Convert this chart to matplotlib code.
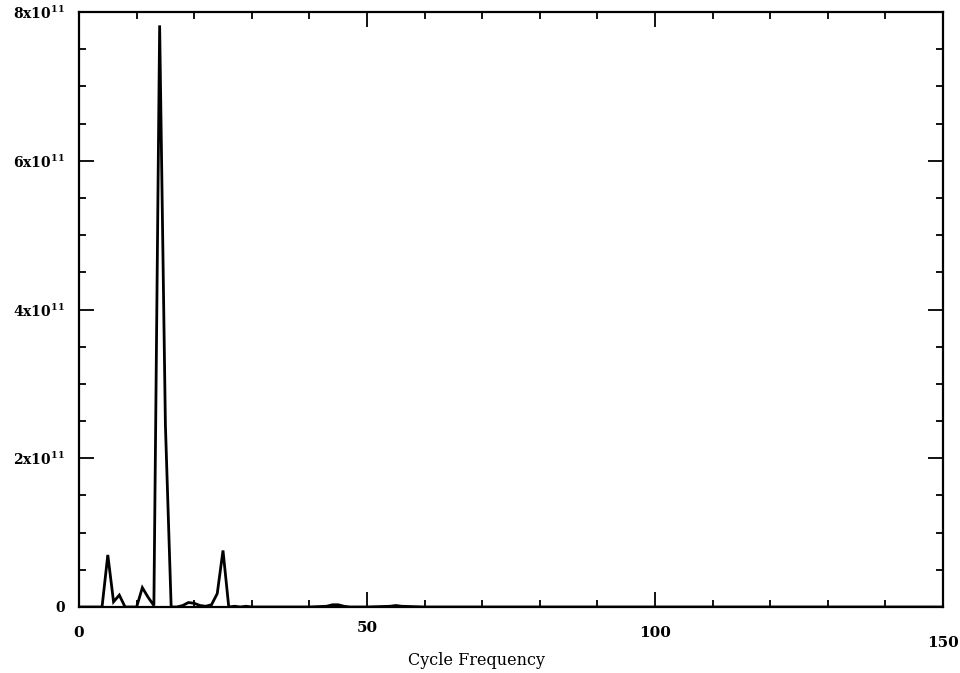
import matplotlib
matplotlib.use("Agg")
import matplotlib.pyplot as plt
import matplotlib.transforms as mtransforms
from matplotlib.ticker import MultipleLocator, FixedLocator, FixedFormatter

# Cycle frequency vs. power (units of 1e11)
freq = [0, 1, 2, 3, 4, 5, 6, 7, 8, 9, 10, 11, 12, 13, 14, 15, 16, 17, 18, 19,
        20, 21, 22, 23, 24, 25, 26, 27, 28, 29, 30, 35, 40, 43, 44, 45, 46, 47,
        50, 54, 55, 56, 60, 80, 100, 120, 140, 150]
power_e11 = [0, 0, 0, 0, 0, 0.70, 0.07, 0.16, 0.0, 0.0, 0.0, 0.26, 0.13, 0.02,
             7.82, 2.45, 0.0, 0.0, 0.02, 0.06, 0.05, 0.02, 0.01, 0.03, 0.18, 0.76,
             0.0, 0.01, 0.0, 0.01, 0.0, 0.0, 0.0, 0.01, 0.03, 0.03, 0.01, 0.0,
             0.0, 0.01, 0.02, 0.01, 0.0, 0.0, 0.0, 0.0, 0.0, 0.0]
power = [v * 1e11 for v in power_e11]

ytick_vals = [0, 2e11, 4e11, 6e11, 8e11]
ytick_labels = ["0", r"2x10$^{11}$", r"4x10$^{11}$", r"6x10$^{11}$", r"8x10$^{11}$"]
xtick_vals = [0, 50, 100, 150]
xtick_labels = ["0", "50", "100", "150"]
xlabel = "Cycle Frequency"

plt.rcParams['font.family'] = ['DejaVu Serif']
plt.rcParams['mathtext.fontset'] = 'custom'
plt.rcParams['mathtext.rm'] = 'DejaVu Serif:bold'
plt.rcParams['mathtext.it'] = 'DejaVu Serif:bold'
plt.rcParams['mathtext.bf'] = 'DejaVu Serif:bold'

fig = plt.figure(figsize=(9.6, 6.73), dpi=100)
ax = fig.add_axes([79/960, 66/673, 864/960, 595/673])

ax.plot(freq, power, color='black', lw=2.0, solid_joinstyle='miter')

ax.set_xlim(0, 150)
ax.set_ylim(0, 8e11)

ax.xaxis.set_major_locator(FixedLocator(xtick_vals))
ax.xaxis.set_major_formatter(FixedFormatter(xtick_labels))
ax.xaxis.set_minor_locator(MultipleLocator(10))
ax.yaxis.set_major_locator(FixedLocator(ytick_vals))
ax.yaxis.set_major_formatter(FixedFormatter(ytick_labels))
ax.yaxis.set_minor_locator(MultipleLocator(0.5e11))

ax.tick_params(which='both', direction='in', top=True, right=True, width=1.3, color='black')
ax.tick_params(which='major', length=11)
ax.tick_params(which='minor', length=5)
ax.tick_params(axis='x', which='major', pad=12, labelsize=11)
ax.tick_params(axis='y', which='major', pad=10, labelsize=10)
for lab in ax.get_xticklabels() + ax.get_yticklabels():
    lab.set_fontweight('bold')

# slight vertical offsets of x tick labels as in the scanned original (pixels)
x_label_shift = [-2, 3, -2, -12]
for lab, dy in zip(ax.get_xticklabels(), x_label_shift):
    lab.set_transform(lab.get_transform() +
                      mtransforms.ScaledTranslation(0, dy / 100, fig.dpi_scale_trans))

for s in ax.spines.values():
    s.set_linewidth(1.6)

ax.set_xlabel(xlabel, fontsize=11.5)
ax.xaxis.set_label_coords((477 - 79) / 864, -0.075)

fig.savefig("out.png", dpi=100, facecolor='white')
